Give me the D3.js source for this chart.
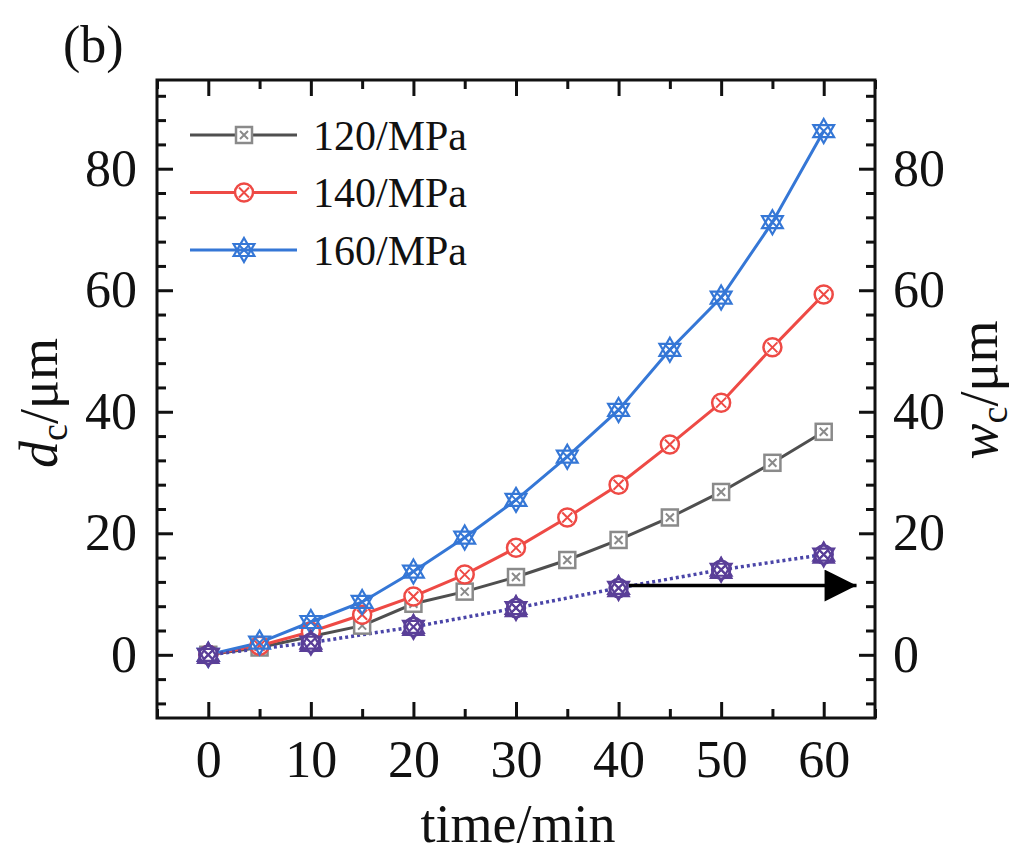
<!DOCTYPE html>
<html>
<head>
<meta charset="utf-8">
<script src="https://cdn.jsdelivr.net/npm/d3@7"></script>
<style>
  body { margin: 0; background: #fff; }
  text { font-family: "Liberation Serif", "Times New Roman", serif; fill: #111; }
</style>
</head>
<body>
<svg id="chart" width="1024" height="857"></svg>
<script>
// time axis (min)
var times = [0, 5, 10, 15, 20, 25, 30, 35, 40, 45, 50, 55, 60];
// d_c values, one array per pressure
var d120 = [0, 1.2, 3.0, 4.8, 8.4, 10.4, 12.8, 15.6, 18.9, 22.6, 26.8, 31.6, 36.7];
var d140 = [0, 1.5, 3.8, 6.6, 9.6, 13.2, 17.6, 22.6, 28.0, 34.6, 41.5, 50.6, 59.3];
var d160 = [0, 2.0, 5.4, 8.7, 13.7, 19.3, 25.5, 32.6, 40.3, 50.2, 58.8, 71.2, 86.2];
// w_c values (right axis), they sit on top of each other
var wTimes = [0, 10, 20, 30, 40, 50, 60];
var w120 = [0, 2.0, 4.6, 7.7, 11.0, 14.0, 16.5];
var w140 = [0, 2.0, 4.6, 7.7, 11.0, 14.0, 16.5];
var w160 = [0, 2.0, 4.6, 7.7, 11.0, 14.0, 16.5];
var legendLabels = ["120/MPa", "140/MPa", "160/MPa"];
var xTicks = [0, 10, 20, 30, 40, 50, 60];
var yTicks = [0, 20, 40, 60, 80];
// arrow pointing to the right axis
var arrowX = [41, 63.2];
var arrowY = 11.4;

var svg = d3.select("#chart");
var L = 157, R = 875, T = 80, B = 718;

var x = d3.scaleLinear().domain([-5, 65]).range([L, R]);
var y = d3.scaleLinear().domain([-10.4, 94.6]).range([B, T]);

var colors = { g: "#4f4f4f", r: "#ee4a45", b: "#3577d6", w: "#5a3f98" };

// ---- axes ----
var minorX = d3.range(-5, 66, 5).filter(function(v){ return v % 10 != 0; });
var minorY = d3.range(-8, 93, 4).filter(function(v){ return v % 20 != 0; });

function styleAxis(g) {
  g.select(".domain").remove();
  g.selectAll("line").attr("stroke", "#111").attr("stroke-width", 3);
  g.selectAll("text").attr("font-size", 52).attr("fill", "#111")
    .style("font-family", '"Liberation Serif", serif');
}

svg.append("g").attr("transform", "translate(0," + B + ")")
  .call(d3.axisBottom(x).tickValues(xTicks).tickSize(-16).tickPadding(22).tickFormat(d3.format("d")))
  .call(styleAxis);
svg.append("g").attr("transform", "translate(0," + B + ")")
  .call(d3.axisBottom(x).tickValues(minorX).tickSize(-9).tickFormat(""))
  .call(styleAxis);
svg.append("g").attr("transform", "translate(0," + T + ")")
  .call(d3.axisTop(x).tickValues(xTicks).tickSize(-16).tickFormat(""))
  .call(styleAxis);
svg.append("g").attr("transform", "translate(0," + T + ")")
  .call(d3.axisTop(x).tickValues(minorX).tickSize(-9).tickFormat(""))
  .call(styleAxis);

svg.append("g").attr("transform", "translate(" + L + ",0)")
  .call(d3.axisLeft(y).tickValues(yTicks).tickSize(-16).tickPadding(20).tickFormat(d3.format("d")))
  .call(styleAxis);
svg.append("g").attr("transform", "translate(" + L + ",0)")
  .call(d3.axisLeft(y).tickValues(minorY).tickSize(-9).tickFormat(""))
  .call(styleAxis);
svg.append("g").attr("transform", "translate(" + R + ",0)")
  .call(d3.axisRight(y).tickValues(yTicks).tickSize(-16).tickPadding(18).tickFormat(d3.format("d")))
  .call(styleAxis);
svg.append("g").attr("transform", "translate(" + R + ",0)")
  .call(d3.axisRight(y).tickValues(minorY).tickSize(-9).tickFormat(""))
  .call(styleAxis);

svg.append("rect")
  .attr("x", L).attr("y", T).attr("width", R - L).attr("height", B - T)
  .attr("fill", "none").attr("stroke", "#111").attr("stroke-width", 3);

// ---- markers ----
function drawMarker(g, type, col) {
  if (type == "square") {
    g.append("rect").attr("x", -8).attr("y", -8).attr("width", 16).attr("height", 16)
      .attr("fill", "#fff").attr("stroke", col).attr("stroke-width", 2.5);
    g.append("path").attr("d", "M-4,-4L4,4M-4,4L4,-4").attr("stroke", col).attr("stroke-width", 2);
  } else if (type == "circle") {
    g.append("circle").attr("r", 9).attr("fill", "#fff").attr("stroke", col).attr("stroke-width", 2.5);
    g.append("path").attr("d", "M-5,-5L5,5M-5,5L5,-5").attr("stroke", col).attr("stroke-width", 2);
  } else if (type == "star") {
    g.append("path").attr("d", "M0,-12L10.4,6L-10.4,6ZM0,12L10.4,-6L-10.4,-6Z")
      .attr("fill", "none").attr("stroke", col).attr("stroke-width", 2.2);
    g.append("path").attr("d", "M-5,-5L5,5M-5,5L5,-5").attr("stroke", col).attr("stroke-width", 2);
  } else if (type == "tri") {
    g.append("path").attr("d", "M0,-11L10,8L-10,8Z")
      .attr("fill", "none").attr("stroke", col).attr("stroke-width", 2.5);
  }
}

function series(xs, ys, col, type, dashed) {
  var pts = xs.map(function(t, i){ return [t, ys[i]]; });
  var line = d3.line().x(function(d){ return x(d[0]); }).y(function(d){ return y(d[1]); });
  var p = svg.append("path").datum(pts).attr("d", line)
    .attr("fill", "none").attr("stroke", col).attr("stroke-width", dashed ? 3.5 : 3);
  if (dashed) p.attr("stroke-dasharray", "3,3");
  return pts;
}

function markers(pts, col, type) {
  svg.append("g").selectAll("g").data(pts).enter().append("g")
    .attr("transform", function(d){ return "translate(" + x(d[0]) + "," + y(d[1]) + ")"; })
    .each(function(){ drawMarker(d3.select(this), type, col); });
}

var p120 = series(times, d120, colors.g);
var p140 = series(times, d140, colors.r);
var p160 = series(times, d160, colors.b);
var pw = series(wTimes, w160, "#4a45a8", null, true);
markers(p120, "#8a8a8a", "square");
markers(p140, colors.r, "circle");
markers(p160, colors.b, "star");
markers(wTimes.map(function(t, i){ return [t, w120[i]]; }), colors.w, "tri");
markers(wTimes.map(function(t, i){ return [t, w140[i]]; }), colors.w, "circle");
markers(wTimes.map(function(t, i){ return [t, w160[i]]; }), colors.w, "star");

// ---- arrow ----
var defs = svg.append("defs");
defs.append("marker").attr("id", "arrowhead")
  .attr("viewBox", "0 -8 16 16").attr("refX", 16).attr("refY", 0)
  .attr("markerUnits", "userSpaceOnUse")
  .attr("markerWidth", 62).attr("markerHeight", 32).attr("orient", "auto")
  .append("path").attr("d", "M0,-8L16,0L0,8Z").attr("fill", "#000");
svg.append("line")
  .attr("x1", x(arrowX[0])).attr("x2", x(arrowX[1]))
  .attr("y1", y(arrowY)).attr("y2", y(arrowY))
  .attr("stroke", "#000").attr("stroke-width", 3.5)
  .attr("marker-end", "url(#arrowhead)");

// ---- legend ----
var legTypes = ["square", "circle", "star"];
var legLine = [colors.g, colors.r, colors.b];
var legMark = ["#8a8a8a", colors.r, colors.b];
legendLabels.forEach(function(lab, i) {
  var ly = 135 + i * 57.5;
  svg.append("line").attr("x1", 190).attr("x2", 297).attr("y1", ly).attr("y2", ly)
    .attr("stroke", legLine[i]).attr("stroke-width", 3);
  var g = svg.append("g").attr("transform", "translate(244," + ly + ")");
  drawMarker(g, legTypes[i], legMark[i]);
  svg.append("text").attr("x", 313).attr("y", ly).attr("dy", "0.35em")
    .attr("font-size", 42).text(lab);
});

// ---- titles ----
svg.append("text").attr("x", 63).attr("y", 62).attr("font-size", 52).text("(b)");

svg.append("text").attr("x", (L + R) / 2 + 2).attr("y", 842)
  .attr("text-anchor", "middle").attr("font-size", 54).text("time/min");

var yl = svg.append("text").attr("transform", "translate(57,403) rotate(-90)")
  .attr("text-anchor", "middle").attr("font-size", 54);
yl.append("tspan").attr("font-style", "italic").text("d");
yl.append("tspan").attr("font-size", 38).attr("dy", 10).text("c");
yl.append("tspan").attr("dy", -10).text("/μm");

var yr = svg.append("text").attr("transform", "translate(997,390) rotate(-90)")
  .attr("text-anchor", "middle").attr("font-size", 54);
yr.append("tspan").attr("font-style", "italic").text("w");
yr.append("tspan").attr("font-size", 38).attr("dy", 10).text("c");
yr.append("tspan").attr("dy", -10).text("/μm");
</script>
</body>
</html>
